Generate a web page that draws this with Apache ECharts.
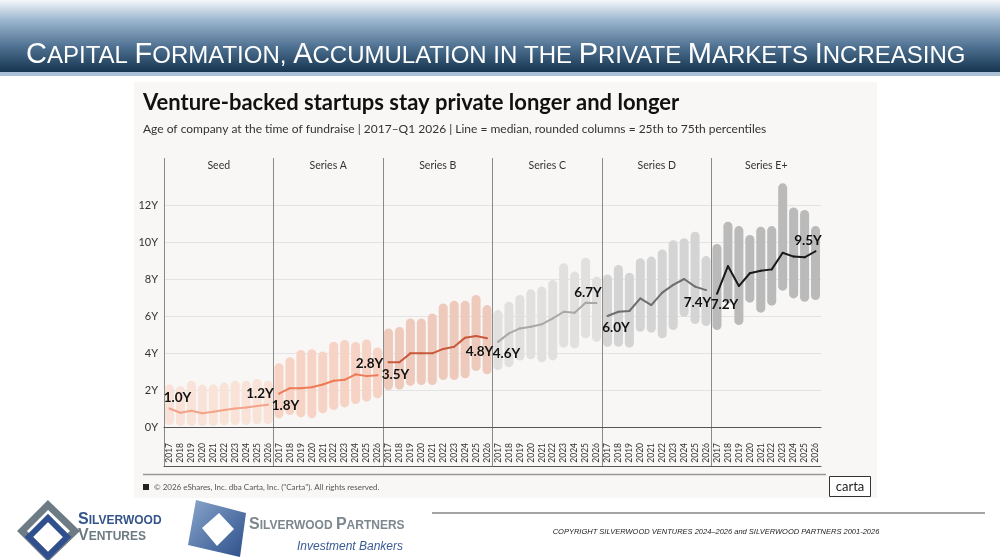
<!DOCTYPE html>
<html>
<head>
<meta charset="utf-8">
<script src="https://cdn.jsdelivr.net/npm/echarts@6/dist/echarts.min.js"></script>
<style>
  html, body { margin: 0; padding: 0; background: #fff; }
  #chart { width: 1000px; height: 560px; }
</style>
</head>
<body>
<div id="chart"></div>
<script>
// stages and fundraise years
const panels = ['Seed', 'Series A', 'Series B', 'Series C', 'Series D', 'Series E+'];
const years = ['2017', '2018', '2019', '2020', '2021', '2022', '2023', '2024', '2025', '2026'];

// company age in years: 25th pct, median, 75th pct
const seedLow = [0.1, 0.05, 0.05, 0.05, 0.05, 0.1, 0.1, 0.1, 0.15, 0.15];
const seedMid = [1.0, 0.77, 0.88, 0.74, 0.83, 0.92, 1.0, 1.06, 1.14, 1.2];
const seedHigh = [2.3, 2.2, 2.5, 2.3, 2.3, 2.4, 2.5, 2.5, 2.6, 2.5];

const aLow = [0.47, 0.65, 0.52, 0.47, 0.74, 0.92, 1.06, 1.24, 1.37, 1.55];
const aMid = [1.8, 2.1, 2.1, 2.15, 2.3, 2.5, 2.55, 2.85, 2.75, 2.8];
const aHigh = [3.44, 3.77, 4.16, 4.2, 4.08, 4.61, 4.7, 4.6, 4.73, 4.3];

const bLow = [2.0, 2.03, 2.22, 2.27, 2.27, 2.54, 2.54, 2.63, 3.03, 2.85];
const bMid = [3.5, 3.5, 3.98, 3.98, 3.98, 4.22, 4.34, 4.83, 4.92, 4.8];
const bHigh = [5.33, 5.41, 5.87, 5.87, 6.14, 6.68, 6.83, 6.83, 7.14, 6.59];

const cLow = [3.08, 3.23, 3.59, 3.66, 3.5, 3.6, 4.29, 4.25, 4.8, 4.61];
const cMid = [4.6, 5.06, 5.33, 5.42, 5.55, 5.87, 6.23, 6.18, 6.72, 6.7];
const cHigh = [6.32, 6.77, 7.14, 7.44, 7.59, 7.95, 8.85, 8.4, 9.15, 8.13];

const dLow = [4.34, 4.34, 4.29, 5.15, 5.1, 4.8, 5.24, 5.96, 5.57, 5.46];
const dMid = [6.0, 6.23, 6.27, 6.95, 6.59, 7.26, 7.68, 8.0, 7.59, 7.4];
const dHigh = [8.25, 8.76, 8.34, 9.12, 9.21, 9.6, 10.1, 10.2, 10.56, 9.24];

const eLow = [5.24, 6.68, 5.51, 6.72, 6.18, 6.56, 7.37, 6.95, 6.77, 6.86];
const eMid = [7.2, 8.7, 7.62, 8.31, 8.45, 8.52, 9.42, 9.21, 9.17, 9.5];
const eHigh = [9.89, 11.1, 10.86, 10.38, 10.83, 10.86, 13.17, 11.87, 11.73, 10.86];

const yTicks = [0, 2, 4, 6, 8, 10, 12];

const lows = [seedLow, aLow, bLow, cLow, dLow, eLow];
const mids = [seedMid, aMid, bMid, cMid, dMid, eMid];
const highs = [seedHigh, aHigh, bHigh, cHigh, dHigh, eHigh];

const barColors = ['#f9e2d8', '#f6d3c5', '#eecabc', '#e1e0df', '#d4d4d4', '#bababa'];
const lineColors = ['#f3a488', '#ee7b55', '#c9593b', '#a8a8a8', '#6e6e6e', '#1a1a1a'];
// where the first / last median label of each panel sits
const labelPlace = [
  [['top', [8, 2]], ['top', [-8, 2]]],
  [['bottom', [6.5, -1]], ['top', [-8, 1.5]]],
  [['bottom', [7, -1]], ['bottom', [-7.5, 0]]],
  [['bottom', [8.5, -1.5]], ['top', [-8.5, 3]]],
  [['bottom', [8.5, -1]], ['bottom', [-8.5, 0]]],
  [['bottom', [7.5, -2]], ['top', [-7.5, 2.5]]]
];

const categories = [];
panels.forEach(p => years.forEach(y => categories.push(p + ' ' + y)));

const baseData = [].concat(...lows);
const spanData = [];
highs.forEach((h, pi) => h.forEach((v, j) => spanData.push(+(v - lows[pi][j]).toFixed(2))));

const lineSeries = mids.map((m, pi) => {
  const data = categories.map(() => null);
  m.forEach((v, j) => {
    const item = { value: v };
    if (j === 0 || j === m.length - 1) {
      const place = labelPlace[pi][j === 0 ? 0 : 1];
      item.label = { show: true, position: place[0], offset: place[1] };
    }
    data[pi * 10 + j] = item;
  });
  return {
    type: 'line',
    name: panels[pi],
    data: data,
    symbol: 'circle',
    symbolSize: 2,
    showSymbol: true,
    lineStyle: { color: lineColors[pi], width: 2 },
    itemStyle: { color: lineColors[pi] },
    label: {
      show: false,
      formatter: p => p.value.toFixed(1) + 'Y',
      fontFamily: 'Lato',
      fontWeight: 'bold',
      fontSize: 13.5,
      color: '#111'
    },
    z: 5
  };
});

const chart = echarts.init(document.getElementById('chart'));

const titleRich = {
  b: { fontSize: 29, fontFamily: 'Liberation Sans', fill: '#fff', verticalAlign: 'bottom' },
  s: { fontSize: 24, fontFamily: 'Liberation Sans', fill: '#fff', verticalAlign: 'bottom', padding: [0, 0, 1, 0] }
};
const swRich = {
  b: { fontSize: 16, fontFamily: 'Liberation Sans', fontWeight: 'bold', verticalAlign: 'bottom' },
  s: { fontSize: 12, fontFamily: 'Liberation Sans', fontWeight: 'bold', verticalAlign: 'bottom', padding: [0, 0, 1, 0] }
};

chart.setOption({
  animation: false,
  backgroundColor: '#fff',
  grid: [
    { left: 164, right: 179, top: 205, bottom: 133 },
    { left: 164, right: 179, top: 158, bottom: 94 }
  ],
  xAxis: [
    {
      gridIndex: 0, type: 'category', data: categories, position: 'bottom', offset: 13,
      axisLine: { lineStyle: { color: '#555', width: 1 } },
      axisTick: { show: false },
      axisLabel: {
        interval: 0, rotate: 90, fontSize: 8.5, color: '#333', margin: 3,
        fontFamily: 'Lato', formatter: v => v.slice(-4)
      }
    },
    {
      gridIndex: 1, type: 'value', min: 0, max: 6, interval: 1, position: 'bottom',
      axisLine: { show: true, lineStyle: { color: '#555' } },
      axisTick: { show: false }, axisLabel: { show: false },
      splitLine: { show: true, showMaxLine: false, lineStyle: { color: '#8a8a8a', width: 1 } }
    },
    {
      gridIndex: 1, type: 'category', data: panels, position: 'top',
      axisLine: { show: false }, axisTick: { show: false },
      axisLabel: { inside: true, margin: 2, color: '#333', fontSize: 10.5, fontFamily: 'Lato' }
    }
  ],
  yAxis: [
    {
      gridIndex: 0, type: 'value', min: yTicks[0], max: yTicks[yTicks.length - 1], interval: 2,
      axisLine: { show: false }, axisTick: { show: false },
      axisLabel: { formatter: v => v + 'Y', color: '#333', fontSize: 11, fontFamily: 'Lato', margin: 6 },
      splitLine: { lineStyle: { color: '#e3e3e3', width: 1 } }
    },
    { gridIndex: 1, type: 'value', min: 0, max: 1, show: false }
  ],
  series: [
    {
      type: 'bar', stack: 'range', data: baseData, barWidth: 9, clip: false, silent: true,
      itemStyle: { color: 'transparent' }
    },
    {
      type: 'bar', stack: 'range', data: spanData, barWidth: 9, clip: false,
      itemStyle: { color: p => barColors[Math.floor(p.dataIndex / 10)], borderRadius: 4.5 }
    }
  ].concat(lineSeries),
  graphic: [
    {
      type: 'rect', z: -2, shape: { x: 0, y: 0, width: 1000, height: 72 },
      style: {
        fill: new echarts.graphic.LinearGradient(0, 0, 0, 1, [
          { offset: 0, color: '#f4f7fa' },
          { offset: 0.28, color: '#9cb6cf' },
          { offset: 0.65, color: '#4f7191' },
          { offset: 1, color: '#153550' }
        ])
      }
    },
    { type: 'rect', z: -2, shape: { x: 0, y: 72, width: 1000, height: 4 }, style: { fill: '#a9c0d6' } },
    {
      type: 'text', x: 26, y: 69,
      style: {
        text: '{b|C}{s|APITAL }{b|F}{s|ORMATION, }{b|A}{s|CCUMULATION IN THE }{b|P}{s|RIVATE }{b|M}{s|ARKETS }{b|I}{s|NCREASING}',
        rich: titleRich, verticalAlign: 'bottom', fill: '#fff'
      }
    },
    { type: 'rect', z: -1, shape: { x: 134, y: 82, width: 743, height: 416 }, style: { fill: '#f8f7f5' } },
    {
      type: 'text', x: 143, y: 103,
      style: {
        text: 'Venture-backed startups stay private longer and longer',
        fontFamily: 'Lato', fontWeight: 'bold', fontSize: 22, fill: '#111', verticalAlign: 'middle'
      }
    },
    {
      type: 'text', x: 143, y: 129,
      style: {
        text: 'Age of company at the time of fundraise | 2017\u2013Q1 2026 | Line = median, rounded columns = 25th to 75th percentiles',
        fontFamily: 'Lato', fontSize: 12, fill: '#333', verticalAlign: 'middle'
      }
    },
    { type: 'line', shape: { x1: 143, y1: 474.5, x2: 826, y2: 474.5 }, style: { stroke: '#999', lineWidth: 1.5 } },
    { type: 'rect', shape: { x: 143, y: 484, width: 6, height: 6 }, style: { fill: '#222' } },
    {
      type: 'text', x: 154, y: 487.5,
      style: {
        text: '\u00a9 2026 eShares, Inc. dba Carta, Inc. ("Carta"). All rights reserved.',
        fontFamily: 'Lato', fontSize: 8, fill: '#555', verticalAlign: 'middle'
      }
    },
    { type: 'rect', shape: { x: 829.5, y: 476.5, width: 41, height: 20 }, style: { fill: '#fff', stroke: '#333', lineWidth: 1 } },
    {
      type: 'text', x: 850, y: 486.5,
      style: { text: 'carta', fontFamily: 'Lato', fontSize: 13, fill: '#222', align: 'center', verticalAlign: 'middle' }
    },
    // Silverwood Ventures mark
    {
      type: 'polygon', shape: { points: [[48, 505], [75, 531], [48, 557], [22, 531]] },
      style: { fill: 'none', stroke: '#6d7b85', lineWidth: 7 }
    },
    {
      type: 'polygon', shape: { points: [[48, 518], [67, 537], [48, 556], [29, 537]] },
      style: { fill: 'none', stroke: '#2f4f8f', lineWidth: 6 }
    },
    {
      type: 'text', x: 78, y: 528,
      style: { text: '{b|S}{s|ILVERWOOD}', rich: swRich, fill: '#34558b', verticalAlign: 'bottom' }
    },
    {
      type: 'text', x: 78, y: 544,
      style: { text: '{b|V}{s|ENTURES}', rich: swRich, fill: '#6c7a83', verticalAlign: 'bottom' }
    },
    // Silverwood Partners mark
    {
      type: 'polygon', shape: { points: [[196, 500], [246, 513], [240, 557], [188, 545]] },
      style: {
        fill: new echarts.graphic.LinearGradient(0, 0, 1, 1, [
          { offset: 0, color: '#8aa6cc' },
          { offset: 1, color: '#2c4f8a' }
        ])
      }
    },
    {
      type: 'polygon', shape: { points: [[219, 513], [234, 529], [217, 546], [202, 528]] },
      style: { fill: '#fff' }
    },
    {
      type: 'text', x: 249, y: 533,
      style: { text: '{b|S}{s|ILVERWOOD }{b|P}{s|ARTNERS}', rich: swRich, fill: '#7c878e', verticalAlign: 'bottom' }
    },
    {
      type: 'text', x: 403, y: 547,
      style: { text: 'Investment Bankers', fontFamily: 'Liberation Sans', fontStyle: 'italic', fontSize: 12, fill: '#3a5b96', align: 'right', verticalAlign: 'middle' }
    },
    { type: 'line', shape: { x1: 432, y1: 513, x2: 985, y2: 513 }, style: { stroke: '#a5a5a5', lineWidth: 2 } },
    {
      type: 'text', x: 716, y: 532,
      style: {
        text: 'COPYRIGHT SILVERWOOD VENTURES 2024\u20132026 and SILVERWOOD PARTNERS 2001-2026',
        fontFamily: 'Liberation Sans', fontStyle: 'italic', fontSize: 7.5, fill: '#222', align: 'center', verticalAlign: 'middle'
      }
    }
  ]
});
</script>
</body>
</html>
